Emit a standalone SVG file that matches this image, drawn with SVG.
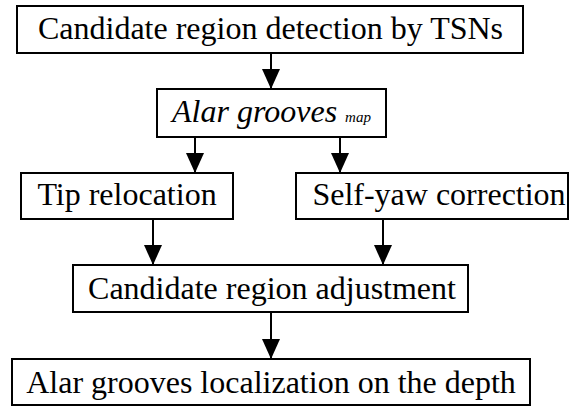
<svg xmlns="http://www.w3.org/2000/svg" width="570" height="410" viewBox="0 0 570 410">
<defs>
<style>
.box{fill:#fff;stroke:#000;stroke-width:2}
.t{font-size:32px;fill:#000;text-anchor:middle}
.e{stroke:#000;stroke-width:2;fill:none}
</style>
<marker id="ah" markerUnits="userSpaceOnUse" markerWidth="20" markerHeight="18" refX="20" refY="9" orient="auto">
<path d="M0,0 L20,9 L0,18 z" fill="#000"/>
</marker>
</defs>
<rect width="570" height="410" fill="#fff"/>
<g id="connectors">
<line class="e" x1="271" y1="53" x2="271" y2="89" marker-end="url(#ah)"/>
<line class="e" x1="195" y1="137" x2="195" y2="173" marker-end="url(#ah)"/>
<line class="e" x1="340" y1="137" x2="340" y2="173" marker-end="url(#ah)"/>
<line class="e" x1="153" y1="219" x2="153" y2="265" marker-end="url(#ah)"/>
<line class="e" x1="383" y1="219" x2="383" y2="265" marker-end="url(#ah)"/>
<line class="e" x1="271" y1="312" x2="271" y2="359" marker-end="url(#ah)"/>
</g>
<g id="n1"><rect class="box" x="17" y="6" width="506" height="47"/><text class="t" x="270.5" y="39" font-family="Liberation Serif, DejaVu Serif, serif">Candidate region detection by TSNs</text></g>
<g id="n2"><rect class="box" x="157" y="89" width="229" height="48"/><text class="t" x="271.5" y="122" font-family="Liberation Serif, DejaVu Serif, serif" font-style="italic">Alar grooves <tspan font-size="15">map</tspan></text></g>
<g id="n3"><rect class="box" x="21" y="173" width="212" height="46"/><text class="t" x="127" y="205" font-family="Liberation Serif, DejaVu Serif, serif">Tip relocation</text></g>
<g id="n4"><rect class="box" x="296" y="173" width="272" height="46"/><text class="t" x="439" y="205" font-family="Liberation Serif, DejaVu Serif, serif">Self-yaw correction</text></g>
<g id="n5"><rect class="box" x="73" y="265" width="395" height="47"/><text class="t" x="272" y="299" font-family="Liberation Serif, DejaVu Serif, serif">Candidate region adjustment</text></g>
<g id="n6"><rect class="box" x="12" y="359" width="518" height="46"/><text class="t" x="271" y="393" font-family="Liberation Serif, DejaVu Serif, serif">Alar grooves localization on the depth</text></g>
</svg>
